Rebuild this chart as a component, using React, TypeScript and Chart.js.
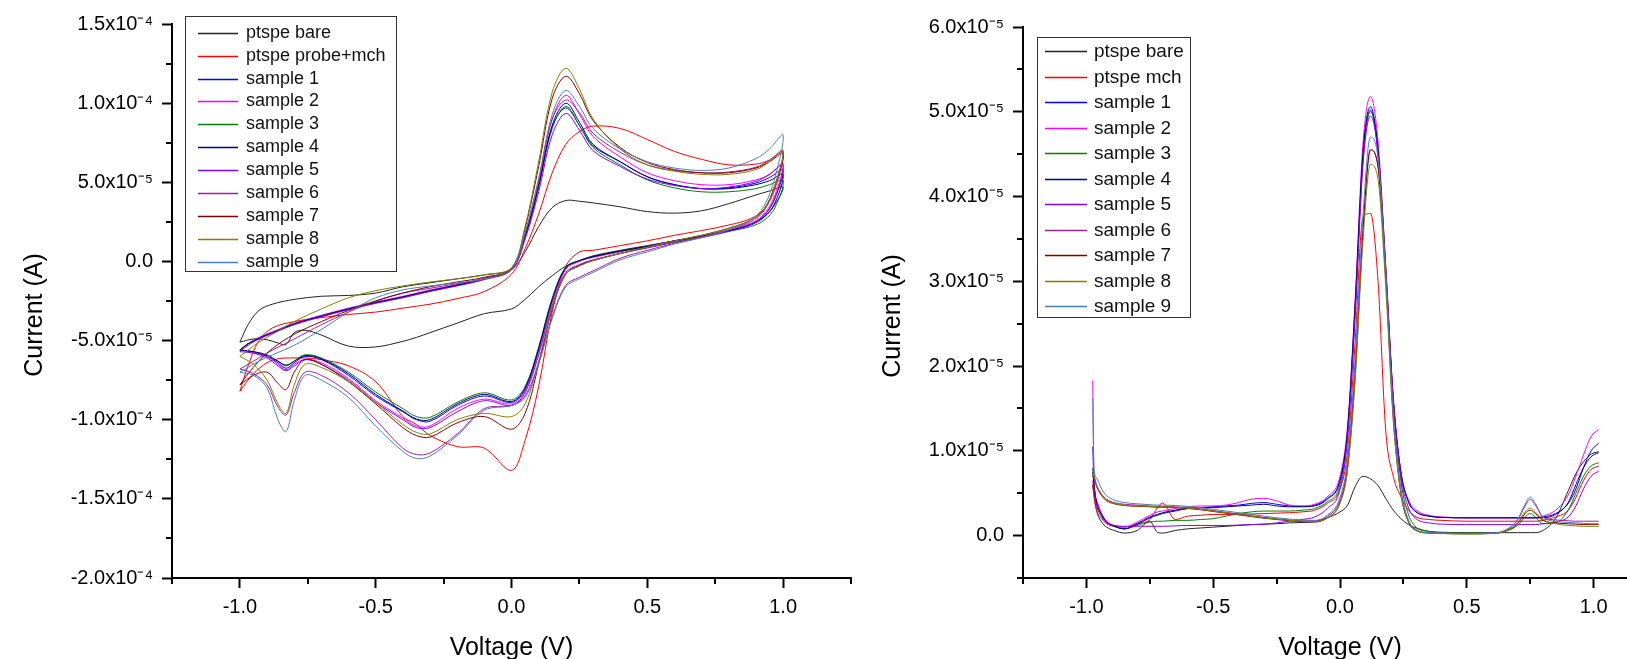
import React, { useEffect, useRef } from 'react';
import { Chart, registerables } from 'chart.js';

Chart.register(...registerables);

const FONT = 'Arial, "Liberation Sans", Helvetica, sans-serif';

// ---------------- series meta ----------------
const CV_LABELS = ['ptspe bare', 'ptspe probe+mch', 'sample 1', 'sample 2', 'sample 3', 'sample 4', 'sample 5', 'sample 6', 'sample 7', 'sample 8', 'sample 9'];
const DPV_LABELS = ['ptspe bare', 'ptspe mch', 'sample 1', 'sample 2', 'sample 3', 'sample 4', 'sample 5', 'sample 6', 'sample 7', 'sample 8', 'sample 9'];
const SERIES_COLORS = ['#222222', '#ff0000', '#0000ff', '#ff00ff', '#008000', '#000080', '#8000ff', '#a020a0', '#800000', '#808000', '#4a7ebb'];

// ---------------- cyclic voltammetry (left) ----------------
// voltages of the forward sweep (-1 -> 1) and the reverse sweep (1 -> -1)
const CV_V_FWD = [-1.0, -0.97, -0.93, -0.88, -0.8, -0.7, -0.6, -0.5, -0.4, -0.3, -0.2, -0.1, 0.0, 0.05, 0.1, 0.15, 0.2, 0.25, 0.3, 0.4, 0.5, 0.6, 0.7, 0.8, 0.9, 0.95, 1.0];
const CV_V_REV = [0.97, 0.93, 0.88, 0.8, 0.7, 0.6, 0.5, 0.4, 0.3, 0.25, 0.2, 0.15, 0.1, 0.05, 0.0, -0.1, -0.2, -0.3, -0.35, -0.4, -0.5, -0.6, -0.7, -0.76, -0.8, -0.83, -0.86, -0.9, -0.95, -1.0];
// currents in units of 1e-5 A
const CV_BARE_FWD = [-5.1, -4.0, -3.1, -2.7, -2.4, -2.2, -2.15, -2.0, -1.6, -1.35, -1.1, -0.85, -0.5, 0.6, 2.2, 3.4, 3.85, 3.8, 3.7, 3.45, 3.15, 3.05, 3.2, 3.65, 4.2, 4.45, 4.7];
const CV_BARE_REV = [3.6, 2.8, 2.35, 1.95, 1.6, 1.3, 1.0, 0.7, 0.35, 0.05, -0.3, -0.9, -1.6, -2.4, -3.0, -3.3, -3.9, -4.5, -4.8, -5.05, -5.4, -5.35, -4.65, -4.35, -4.5, -5.25, -5.15, -4.95, -4.9, -5.1];
const CV_MCH_FWD = [-8.2, -6.6, -5.0, -4.2, -3.8, -3.55, -3.35, -3.2, -2.95, -2.7, -2.35, -1.9, -0.8, 0.8, 3.0, 5.6, 7.4, 8.2, 8.55, 8.4, 7.7, 6.95, 6.45, 6.1, 6.15, 6.4, 6.9];
const CV_MCH_REV = [4.6, 3.3, 2.7, 2.3, 1.95, 1.65, 1.3, 1.0, 0.7, 0.6, -0.3, -3.2, -7.9, -11.3, -13.2, -11.8, -11.7, -11.0, -10.3, -9.8, -7.6, -6.6, -6.2, -6.1, -6.1, -6.1, -6.15, -6.4, -7.1, -8.2];
const CV_S1_FWD = [-5.6, -5.2, -4.85, -4.5, -3.95, -3.45, -3.0, -2.6, -2.25, -1.85, -1.5, -1.1, -0.5, 1.6, 4.8, 8.5, 9.7, 8.6, 7.3, 6.3, 5.35, 4.85, 4.6, 4.65, 4.95, 5.3, 5.8];
const CV_S1_REV = [4.0, 2.9, 2.35, 1.95, 1.6, 1.3, 0.95, 0.65, 0.3, 0.05, -0.4, -2.5, -5.6, -8.1, -8.9, -8.5, -9.1, -10.1, -10.0, -9.5, -8.5, -7.2, -6.2, -6.0, -6.4, -6.75, -6.4, -6.0, -5.75, -5.6];
const CV_S2_FWD = [-5.6, -5.2, -4.8, -4.45, -3.9, -3.4, -2.95, -2.55, -2.2, -1.8, -1.45, -1.05, -0.5, 1.7, 5.0, 9.0, 10.5, 9.3, 7.9, 6.6, 5.6, 5.1, 4.85, 4.85, 5.15, 5.5, 6.2];
const CV_S2_REV = [4.2, 3.0, 2.4, 2.0, 1.6, 1.3, 0.95, 0.6, 0.25, 0.0, -0.5, -2.6, -5.7, -8.2, -9.0, -8.7, -9.3, -10.4, -10.4, -9.9, -8.8, -7.4, -6.4, -6.2, -6.5, -6.85, -6.5, -6.0, -5.75, -5.6];
const CV_S3_FWD = [-5.6, -5.2, -4.85, -4.5, -3.95, -3.45, -3.0, -2.6, -2.25, -1.85, -1.5, -1.1, -0.5, 1.5, 4.7, 8.4, 9.8, 8.6, 7.2, 6.1, 5.15, 4.65, 4.4, 4.4, 4.6, 4.85, 5.1];
const CV_S3_REV = [3.4, 2.6, 2.2, 1.9, 1.55, 1.25, 0.95, 0.65, 0.3, 0.05, -0.35, -2.3, -5.4, -7.9, -8.75, -8.3, -8.9, -9.85, -9.8, -9.3, -8.25, -7.0, -6.1, -5.9, -6.3, -6.6, -6.3, -5.9, -5.7, -5.6];
const CV_S4_FWD = [-5.6, -5.2, -4.85, -4.5, -3.95, -3.45, -3.0, -2.6, -2.25, -1.85, -1.5, -1.1, -0.5, 1.6, 4.8, 8.6, 10.0, 8.8, 7.4, 6.3, 5.35, 4.85, 4.6, 4.6, 4.85, 5.1, 5.5];
const CV_S4_REV = [3.7, 2.8, 2.3, 1.95, 1.6, 1.3, 0.95, 0.65, 0.3, 0.05, -0.4, -2.4, -5.5, -8.0, -8.85, -8.4, -9.0, -10.0, -9.95, -9.45, -8.4, -7.1, -6.15, -5.95, -6.3, -6.55, -6.3, -5.95, -5.7, -5.6];
const CV_S5_FWD = [-5.7, -5.3, -4.9, -4.55, -4.0, -3.5, -3.05, -2.65, -2.3, -1.9, -1.55, -1.15, -0.55, 1.4, 4.4, 8.0, 9.35, 8.3, 7.0, 6.0, 5.2, 4.8, 4.6, 4.7, 5.05, 5.5, 6.1];
const CV_S5_REV = [4.0, 2.9, 2.3, 1.9, 1.5, 1.2, 0.85, 0.5, 0.1, -0.2, -0.7, -2.8, -5.9, -8.3, -9.1, -8.8, -9.5, -10.5, -10.5, -10.0, -8.9, -7.5, -6.5, -6.2, -6.6, -6.9, -6.6, -6.1, -5.8, -5.7];
const CV_S6_FWD = [-6.8, -6.5, -6.1, -5.6, -4.9, -4.0, -3.2, -2.5, -2.0, -1.7, -1.4, -1.1, -0.5, 1.8, 5.2, 9.0, 10.2, 9.4, 8.1, 6.9, 6.1, 5.75, 5.6, 5.65, 5.95, 6.4, 7.0];
const CV_S6_REV = [4.8, 3.2, 2.5, 2.0, 1.55, 1.15, 0.7, 0.2, -0.6, -1.0, -1.5, -3.5, -6.4, -8.5, -9.1, -9.3, -10.9, -12.1, -12.2, -11.8, -10.0, -8.3, -7.2, -7.0, -8.3, -9.7, -9.2, -7.8, -7.1, -6.8];
const CV_S7_FWD = [-7.8, -7.1, -6.3, -5.5, -4.6, -3.8, -3.1, -2.5, -2.0, -1.6, -1.3, -1.0, -0.45, 2.1, 6.0, 10.3, 11.7, 10.6, 8.9, 7.2, 6.25, 5.8, 5.6, 5.6, 5.9, 6.3, 6.8];
const CV_S7_REV = [4.8, 3.3, 2.6, 2.1, 1.65, 1.3, 0.9, 0.5, 0.05, -0.25, -0.8, -3.0, -6.5, -9.6, -10.6, -9.8, -10.2, -11.1, -11.0, -10.5, -9.0, -7.6, -6.5, -6.2, -7.0, -8.1, -7.7, -7.0, -7.2, -7.8];
const CV_S8_FWD = [-6.0, -5.6, -5.1, -4.6, -3.8, -3.0, -2.3, -1.85, -1.55, -1.3, -1.1, -0.85, -0.4, 2.2, 6.3, 10.7, 12.2, 10.9, 9.0, 7.1, 6.1, 5.7, 5.5, 5.5, 5.8, 6.3, 7.0];
const CV_S8_REV = [4.8, 3.3, 2.6, 2.1, 1.65, 1.3, 0.9, 0.5, 0.05, -0.3, -0.8, -2.9, -6.3, -9.0, -9.8, -9.6, -10.0, -10.9, -10.8, -10.3, -8.9, -7.6, -6.7, -6.5, -7.8, -9.6, -9.0, -7.5, -6.5, -6.0];
const CV_S9_FWD = [-7.0, -6.7, -6.3, -5.9, -5.3, -4.3, -3.2, -2.3, -1.8, -1.55, -1.35, -1.1, -0.5, 1.8, 5.2, 9.3, 10.8, 9.8, 8.4, 7.1, 6.3, 5.9, 5.75, 5.9, 6.5, 7.1, 8.0];
const CV_S9_REV = [5.3, 3.5, 2.6, 2.0, 1.5, 1.1, 0.6, 0.1, -0.7, -1.1, -1.6, -3.6, -6.5, -8.6, -9.1, -9.4, -11.0, -12.3, -12.45, -12.0, -10.4, -8.6, -7.5, -7.2, -8.8, -10.75, -10.0, -8.0, -7.2, -7.0];

const CV_FWD = [CV_BARE_FWD, CV_MCH_FWD, CV_S1_FWD, CV_S2_FWD, CV_S3_FWD, CV_S4_FWD, CV_S5_FWD, CV_S6_FWD, CV_S7_FWD, CV_S8_FWD, CV_S9_FWD];
const CV_REV = [CV_BARE_REV, CV_MCH_REV, CV_S1_REV, CV_S2_REV, CV_S3_REV, CV_S4_REV, CV_S5_REV, CV_S6_REV, CV_S7_REV, CV_S8_REV, CV_S9_REV];
const CV_UNIT = 1e-5;

const CV_Y_TICK_VALUES = [1.5e-4, 1.0e-4, 5.0e-5, 0, -5.0e-5, -1.0e-4, -1.5e-4, -2.0e-4];
const CV_Y_TICK_LABELS = ['1.5x10\u207B\u2074', '1.0x10\u207B\u2074', '5.0x10\u207B\u2075', '0.0', '-5.0x10\u207B\u2075', '-1.0x10\u207B\u2074', '-1.5x10\u207B\u2074', '-2.0x10\u207B\u2074'];

// ---------------- differential pulse voltammetry (right) ----------------
const DPV_V = [-0.975, -0.97, -0.96, -0.94, -0.92, -0.89, -0.85, -0.8, -0.75, -0.72, -0.7, -0.65, -0.6, -0.55, -0.5, -0.45, -0.4, -0.35, -0.3, -0.25, -0.2, -0.15, -0.1, -0.05, 0.0, 0.03, 0.06, 0.09, 0.12, 0.15, 0.18, 0.21, 0.24, 0.27, 0.3, 0.35, 0.4, 0.5, 0.6, 0.65, 0.7, 0.73, 0.75, 0.77, 0.8, 0.85, 0.9, 0.93, 0.96, 0.99, 1.02];
// currents in units of 1e-6 A
const DPV_BARE = [6.0, 5.0, 3.0, 1.6, 1.0, 0.6, 0.3, 0.6, 1.7, 0.4, 0.3, 0.6, 0.8, 0.9, 1.0, 1.1, 1.2, 1.3, 1.35, 1.4, 1.5, 1.55, 1.65, 2.1, 2.8, 3.6, 5.8, 7.0, 6.7, 5.9, 4.4, 3.0, 2.0, 1.3, 0.9, 0.5, 0.4, 0.35, 0.35, 0.35, 0.35, 0.35, 0.35, 0.35, 0.6, 2.0, 5.3, 7.3, 8.7, 9.6, 9.9];
const DPV_MCH = [6.0, 4.5, 3.0, 2.0, 1.4, 1.1, 1.0, 1.4, 1.9, 3.3, 3.85, 1.9, 2.3, 2.4, 2.5, 2.5, 2.5, 2.55, 2.6, 2.65, 2.7, 2.8, 3.0, 3.8, 5.5, 10.0, 23.0, 37.5, 38.0, 30.0, 12.5, 7.0, 4.6, 3.0, 2.2, 1.9, 1.8, 1.7, 1.7, 1.7, 1.7, 1.7, 1.7, 1.7, 1.8, 2.2, 3.0, 4.5, 6.5, 7.8, 8.2];
const DPV_S1 = [10.5, 6.2, 4.0, 2.5, 1.6, 1.1, 0.8, 1.3, 2.1, 2.4, 2.6, 2.9, 3.2, 3.3, 3.4, 3.5, 3.6, 3.8, 3.9, 3.7, 3.5, 3.45, 3.6, 4.4, 6.6, 12.5, 27.0, 44.5, 50.2, 45.0, 31.0, 16.0, 7.5, 4.0, 2.8, 2.3, 2.15, 2.1, 2.1, 2.1, 2.1, 2.1, 2.1, 2.1, 2.2, 2.6, 3.8, 5.5, 8.0, 10.0, 10.9];
const DPV_S2 = [18.3, 6.5, 4.2, 2.6, 1.7, 1.2, 1.0, 1.6, 2.4, 2.8, 2.9, 3.2, 3.4, 3.5, 3.5, 3.6, 3.9, 4.3, 4.4, 4.1, 3.6, 3.5, 3.7, 4.6, 7.0, 13.0, 28.0, 46.0, 51.8, 46.5, 32.0, 16.5, 7.5, 4.2, 3.0, 2.4, 2.2, 2.1, 2.1, 2.1, 2.1, 2.1, 2.1, 2.1, 2.3, 3.0, 4.8, 7.0, 9.5, 11.7, 12.5];
const DPV_S3 = [8.0, 6.0, 3.8, 2.4, 1.6, 1.1, 0.8, 1.2, 1.6, 1.7, 1.7, 1.8, 1.8, 1.9, 2.0, 2.3, 2.6, 2.8, 2.9, 2.9, 2.9, 3.0, 3.2, 4.0, 6.0, 12.0, 26.5, 44.0, 50.0, 45.5, 32.0, 16.0, 6.5, 2.5, 1.0, 0.5, 0.35, 0.3, 0.3, 0.5, 1.2, 2.2, 2.6, 2.2, 1.4, 1.5, 3.0, 5.0, 7.0, 8.2, 8.6];
const DPV_S4 = [7.5, 6.0, 4.0, 2.5, 1.6, 1.1, 0.8, 1.4, 2.2, 2.5, 2.7, 3.0, 3.2, 3.3, 3.3, 3.4, 3.5, 3.6, 3.7, 3.5, 3.4, 3.4, 3.5, 4.3, 6.5, 12.5, 27.5, 45.0, 50.6, 45.5, 31.5, 16.0, 7.5, 4.0, 2.8, 2.3, 2.15, 2.1, 2.1, 2.1, 2.1, 2.1, 2.1, 2.1, 2.1, 2.5, 3.9, 6.0, 8.0, 9.3, 9.8];
const DPV_S5 = [6.5, 5.5, 3.6, 2.2, 1.5, 1.2, 1.1, 1.1, 1.1, 1.1, 1.1, 1.15, 1.2, 1.2, 1.2, 1.2, 1.25, 1.3, 1.35, 1.5, 1.7, 1.9, 2.2, 3.2, 5.5, 11.5, 26.0, 43.5, 49.5, 45.0, 31.5, 16.0, 7.0, 3.3, 2.0, 1.5, 1.35, 1.3, 1.3, 1.3, 1.3, 1.3, 1.3, 1.3, 1.4, 1.6, 2.2, 3.5, 5.5, 7.0, 7.6];
const DPV_S6 = [8.0, 7.2, 6.0, 4.9, 4.3, 3.9, 3.7, 3.6, 3.5, 3.45, 3.45, 3.4, 3.3, 3.15, 2.95, 2.75, 2.55, 2.35, 2.15, 2.0, 1.85, 1.75, 1.75, 2.3, 4.2, 8.5, 20.0, 36.0, 45.5, 43.5, 31.0, 14.5, 5.5, 1.8, 0.7, 0.35, 0.3, 0.25, 0.3, 0.6, 1.8, 3.5, 4.3, 3.6, 2.2, 1.85, 1.75, 1.7, 1.7, 1.7, 1.7];
const DPV_S7 = [7.0, 6.8, 5.8, 4.7, 4.1, 3.75, 3.55, 3.45, 3.4, 3.35, 3.35, 3.3, 3.2, 3.05, 2.85, 2.65, 2.45, 2.25, 2.05, 1.9, 1.75, 1.65, 1.6, 2.1, 3.9, 8.0, 19.0, 35.5, 45.5, 43.5, 30.5, 14.0, 5.0, 1.6, 0.6, 0.3, 0.25, 0.2, 0.25, 0.5, 1.4, 2.6, 3.0, 2.6, 1.8, 1.5, 1.4, 1.35, 1.3, 1.3, 1.3];
const DPV_S8 = [7.5, 7.0, 5.9, 4.8, 4.2, 3.8, 3.6, 3.5, 3.45, 3.4, 3.4, 3.35, 3.25, 3.1, 2.9, 2.7, 2.5, 2.3, 2.1, 1.95, 1.8, 1.7, 1.65, 2.1, 3.8, 7.8, 18.5, 34.5, 43.8, 42.0, 29.5, 13.5, 5.0, 1.6, 0.6, 0.3, 0.25, 0.2, 0.25, 0.5, 1.5, 2.8, 3.26, 2.8, 1.9, 1.4, 1.2, 1.15, 1.1, 1.1, 1.1];
const DPV_S9 = [16.2, 8.0, 6.8, 5.5, 4.7, 4.2, 3.9, 3.75, 3.65, 3.6, 3.6, 3.55, 3.45, 3.3, 3.1, 2.9, 2.7, 2.5, 2.3, 2.1, 1.95, 1.85, 1.8, 2.4, 4.5, 9.0, 21.0, 37.5, 47.0, 44.5, 31.0, 14.5, 5.3, 1.8, 0.7, 0.35, 0.3, 0.25, 0.3, 0.6, 1.9, 3.7, 4.55, 3.8, 2.2, 1.7, 1.55, 1.5, 1.45, 1.4, 1.4];

const DPV_SERIES = [DPV_BARE, DPV_MCH, DPV_S1, DPV_S2, DPV_S3, DPV_S4, DPV_S5, DPV_S6, DPV_S7, DPV_S8, DPV_S9];
const DPV_UNIT = 1e-6;

const DPV_Y_TICK_VALUES = [6e-5, 5e-5, 4e-5, 3e-5, 2e-5, 1e-5, 0];
const DPV_Y_TICK_LABELS = ['6.0x10\u207B\u2075', '5.0x10\u207B\u2075', '4.0x10\u207B\u2075', '3.0x10\u207B\u2075', '2.0x10\u207B\u2075', '1.0x10\u207B\u2075', '0.0'];

const X_TICK_VALUES = [-1.0, -0.5, 0, 0.5, 1.0];
const X_TICK_LABELS = ['-1.0', '-0.5', '0.0', '0.5', '1.0'];

function labelFor(values: number[], labels: string[], v: number, tol: number): string {
  const i = values.findIndex((t) => Math.abs(t - v) < tol);
  return i >= 0 ? labels[i] : '';
}

// ---------------- plugins ----------------
const minorTicksPlugin = {
  id: 'minorTicks',
  afterDraw(chart: any, _a: any, opts: any) {
    const ctx = chart.ctx;
    const len = (opts && opts.length) || 6;
    ctx.save();
    ctx.strokeStyle = '#000';
    ctx.lineWidth = 2;
    const xs = chart.scales.x;
    const ys = chart.scales.y;
    xs.ticks.forEach((t: any) => {
      if (t.label !== '') return;
      const p = Math.round(xs.getPixelForValue(t.value));
      ctx.beginPath();
      ctx.moveTo(p, xs.top);
      ctx.lineTo(p, xs.top + len);
      ctx.stroke();
    });
    ys.ticks.forEach((t: any) => {
      if (t.label !== '') return;
      const p = Math.round(ys.getPixelForValue(t.value));
      ctx.beginPath();
      ctx.moveTo(ys.right, p);
      ctx.lineTo(ys.right - len, p);
      ctx.stroke();
    });
    ctx.restore();
  },
};

// vertical axis title, placed where the original figure had it
const yTitlePlugin = {
  id: 'yTitle',
  afterDraw(chart: any, _a: any, opts: any) {
    if (!opts || !opts.text) return;
    const ctx = chart.ctx;
    ctx.save();
    ctx.translate(opts.x, opts.y);
    ctx.rotate(-Math.PI / 2);
    ctx.font = `${opts.fontSize}px ${FONT}`;
    ctx.fillStyle = '#000000';
    ctx.textAlign = 'center';
    ctx.textBaseline = 'middle';
    ctx.fillText(opts.text, 0, 0);
    ctx.restore();
  },
};

const boxLegendPlugin = {
  id: 'boxLegend',
  afterDraw(chart: any, _a: any, opts: any) {
    if (!opts || !opts.box) return;
    const ctx = chart.ctx;
    const [bx, by, bw, bh] = opts.box;
    ctx.save();
    ctx.fillStyle = '#ffffff';
    ctx.fillRect(bx, by, bw, bh);
    ctx.strokeStyle = '#333333';
    ctx.lineWidth = 1;
    ctx.strokeRect(bx + 0.5, by + 0.5, bw, bh);
    ctx.font = `${opts.fontSize}px ${FONT}`;
    ctx.textBaseline = 'middle';
    ctx.textAlign = 'left';
    chart.data.datasets.forEach((ds: any, i: number) => {
      const y = Math.round(opts.firstRow + i * opts.rowStep) + 0.5;
      ctx.strokeStyle = ds.borderColor;
      ctx.lineWidth = 1.5;
      ctx.beginPath();
      ctx.moveTo(opts.lineX0, y);
      ctx.lineTo(opts.lineX1, y);
      ctx.stroke();
      ctx.fillStyle = '#111111';
      ctx.fillText(ds.label, opts.textX, y);
    });
    ctx.restore();
  },
};

function axisCommon() {
  return {
    grid: {
      display: true,
      drawOnChartArea: false,
      drawTicks: true,
      tickLength: 10,
      tickWidth: 2,
      tickColor: (c: any) => (c.tick && c.tick.label !== '' ? '#000000' : 'rgba(0,0,0,0)'),
    },
    border: { display: true, color: '#000000', width: 2 },
  };
}

function makeConfig(kind: 'cv' | 'dpv'): any {
  const isCv = kind === 'cv';
  const labels = isCv ? CV_LABELS : DPV_LABELS;
  const datasets = labels.map((label, i) => {
    let data: { x: number; y: number }[];
    if (isCv) {
      data = [
        ...CV_V_FWD.map((v, j) => ({ x: v, y: CV_FWD[i][j] * CV_UNIT })),
        ...CV_V_REV.map((v, j) => ({ x: v, y: CV_REV[i][j] * CV_UNIT })),
      ];
    } else {
      data = DPV_V.map((v, j) => ({ x: v, y: DPV_SERIES[i][j] * DPV_UNIT }));
    }
    return {
      label,
      data,
      borderColor: SERIES_COLORS[i],
      backgroundColor: SERIES_COLORS[i],
      borderWidth: 1,
      pointRadius: 0,
      pointHoverRadius: 0,
      fill: false,
      order: labels.length - i,
      tension: isCv ? 0.35 : 0,
      cubicInterpolationMode: isCv ? 'default' : 'monotone',
    };
  });

  const tickFont = { family: FONT, size: 20 };
  const titleFont = { family: FONT, size: 25 };

  return {
    type: 'line',
    data: { datasets },
    plugins: [minorTicksPlugin, boxLegendPlugin, yTitlePlugin],
    options: {
      responsive: false,
      animation: false,
      events: [],
      layout: {
        padding: isCv ? { left: 0, right: 9, top: 24, bottom: 0 } : { left: 0, right: 23, top: 27, bottom: 0 },
      },
      plugins: {
        legend: { display: false },
        tooltip: { enabled: false },
        minorTicks: { length: 6 },
        yTitle: isCv ? { text: 'Current (A)', x: 35, y: 315, fontSize: 25 } : { text: 'Current (A)', x: 33, y: 316, fontSize: 25 },
        boxLegend: isCv
          ? { box: [185, 16, 211, 255], firstRow: 32.7, rowStep: 22.9, lineX0: 198, lineX1: 238, textX: 246, fontSize: 18 }
          : { box: [177, 37, 153, 280], firstRow: 51, rowStep: 25.5, lineX0: 185, lineX1: 227, textX: 234, fontSize: 19 },
      },
      scales: {
        x: {
          type: 'linear',
          min: -1.25,
          max: 1.25,
          afterFit: (s: any) => {
            s.height = 81;
          },
          ticks: {
            stepSize: 0.25,
            maxTicksLimit: 100,
            autoSkip: false,
            maxRotation: 0,
            padding: 7,
            color: '#000000',
            font: tickFont,
            callback: (v: any) => labelFor(X_TICK_VALUES, X_TICK_LABELS, Number(v), 1e-6),
          },
          ...axisCommon(),
          title: { display: true, text: 'Voltage (V)', color: '#000000', font: titleFont, padding: { top: 0, bottom: -4 } },
        },
        y: {
          type: 'linear',
          min: isCv ? -2.0e-4 : -5e-6,
          max: isCv ? 1.5e-4 : 6e-5,
          afterFit: (s: any) => {
            s.width = isCv ? 172 : 163;
          },
          ticks: {
            stepSize: isCv ? 2.5e-5 : 5e-6,
            maxTicksLimit: 100,
            autoSkip: false,
            padding: 9,
            color: '#000000',
            font: tickFont,
            callback: (v: any) =>
              isCv
                ? labelFor(CV_Y_TICK_VALUES, CV_Y_TICK_LABELS, Number(v), 1e-10)
                : labelFor(DPV_Y_TICK_VALUES, DPV_Y_TICK_LABELS, Number(v), 1e-11),
          },
          ...axisCommon(),
          title: { display: false },
        },
      },
    },
  };
}

export default function App() {
  const leftRef = useRef<HTMLCanvasElement>(null);
  const rightRef = useRef<HTMLCanvasElement>(null);

  useEffect(() => {
    const c1 = new Chart(leftRef.current as HTMLCanvasElement, makeConfig('cv'));
    const c2 = new Chart(rightRef.current as HTMLCanvasElement, makeConfig('dpv'));
    return () => {
      c1.destroy();
      c2.destroy();
    };
  }, []);

  return (
    <div
      style={{
        position: 'fixed',
        left: 0,
        top: 0,
        width: 1627,
        height: 659,
        overflow: 'hidden',
        background: '#ffffff',
      }}
    >
      <canvas ref={leftRef} width={860} height={659} style={{ position: 'absolute', left: 0, top: 0 }} />
      <canvas ref={rightRef} width={820} height={659} style={{ position: 'absolute', left: 860, top: 0 }} />
    </div>
  );
}
